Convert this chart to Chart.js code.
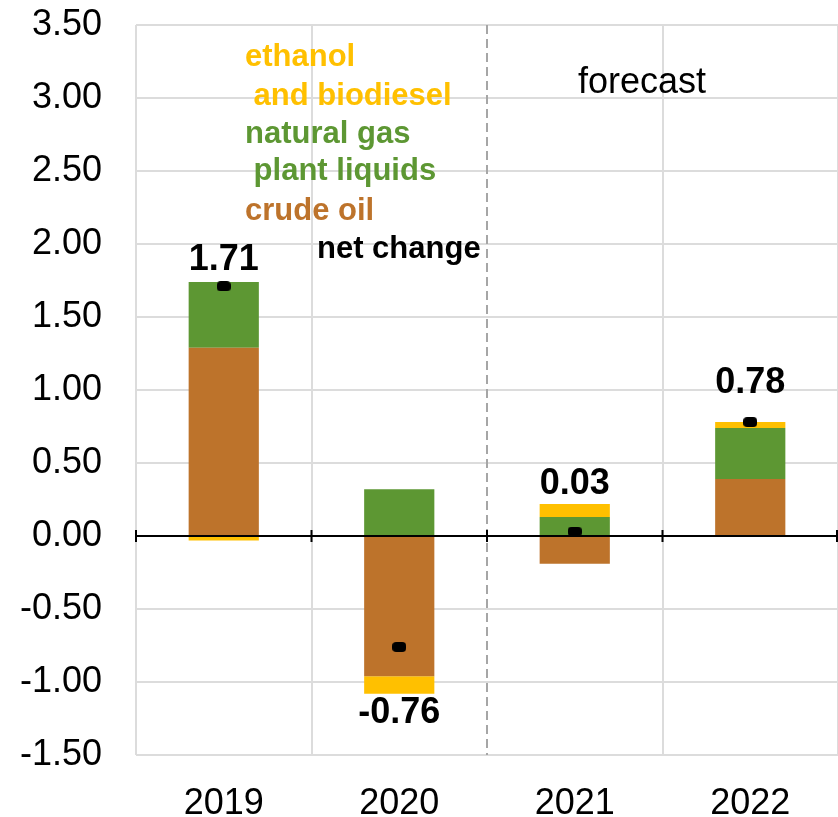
<!DOCTYPE html>
<html>
<head>
<meta charset="utf-8">
<script src="https://cdn.jsdelivr.net/npm/chart.js@4.4.0/dist/chart.umd.min.js"></script>
<style>
  html, body { margin: 0; padding: 0; background: #fff; }
  #wrap { width: 838px; height: 817px; }
</style>
</head>
<body>
<div id="wrap"><canvas id="chart" width="838" height="817"></canvas></div>
<script>
// data (million barrels per day, change vs previous year)
const years = ["2019", "2020", "2021", "2022"];
const crudeOil = [1.29, -0.96, -0.19, 0.39];
const ngpl = [0.45, 0.32, 0.13, 0.35];
const ethanol = [-0.03, -0.12, 0.09, 0.04];
const netChange = [1.71, -0.76, 0.03, 0.78];
const yTicks = [-1.5, -1.0, -0.5, 0, 0.5, 1.0, 1.5, 2.0, 2.5, 3.0, 3.5];

const ORANGE = "#BD732B";
const GREEN = "#5D9733";
const YELLOW = "#FFC000";
const FONT = "'Liberation Sans', Arial, sans-serif";

// legend written inside the plot, one line per entry
const legendLines = [
  { text: "ethanol", color: YELLOW, dy: 41 },
  { text: " and biodiesel", color: YELLOW, dy: 80 },
  { text: "natural gas", color: GREEN, dy: 118 },
  { text: " plant liquids", color: GREEN, dy: 155 },
  { text: "crude oil", color: ORANGE, dy: 195 }
];

// gap between bar end and net label baseline
const labelGap = [12, 29, 10, 29];

// small black rounded marker for the net change
function makeDot() {
  const c = document.createElement("canvas");
  c.width = 14; c.height = 10;
  const g = c.getContext("2d");
  const r = 4;
  g.fillStyle = "#000";
  g.beginPath();
  g.moveTo(r, 0);
  g.lineTo(14 - r, 0);
  g.arc(14 - r, r, r, -Math.PI / 2, 0);
  g.lineTo(14, 10 - r);
  g.arc(14 - r, 10 - r, r, 0, Math.PI / 2);
  g.lineTo(r, 10);
  g.arc(r, 10 - r, r, Math.PI / 2, Math.PI);
  g.lineTo(0, r);
  g.arc(r, r, r, Math.PI, Math.PI * 1.5);
  g.fill();
  return c;
}

const overlay = {
  id: "overlay",
  beforeDatasetsDraw(chart) {
    const { ctx, chartArea } = chart;
    const step = (chartArea.right - chartArea.left) / years.length;
    const x = chartArea.left + step * 2;
    ctx.save();
    ctx.strokeStyle = "#a6a6a6";
    ctx.lineWidth = 2;
    ctx.setLineDash([9, 5]);
    ctx.beginPath();
    ctx.moveTo(x, chartArea.top);
    ctx.lineTo(x, chartArea.bottom);
    ctx.stroke();
    ctx.restore();
  },
  beforeDatasetDraw(chart, args) {
    if (args.meta.type !== "line") return;
    const { ctx, chartArea, scales } = chart;
    const y0 = scales.y.getPixelForValue(0);
    const step = (chartArea.right - chartArea.left) / years.length;
    ctx.save();
    ctx.strokeStyle = "#000";
    ctx.lineWidth = 2;
    ctx.beginPath();
    ctx.moveTo(chartArea.left, y0);
    ctx.lineTo(chartArea.right, y0);
    for (let i = 0; i <= years.length; i++) {
      const bx = Math.min(chartArea.left + i * step, chartArea.right - 1);
      ctx.moveTo(bx, y0 - 6);
      ctx.lineTo(bx, y0 + 6);
    }
    ctx.stroke();
    ctx.restore();
  },
  afterDatasetsDraw(chart) {
    const { ctx, chartArea, scales } = chart;
    ctx.save();
    ctx.textAlign = "left";
    ctx.textBaseline = "alphabetic";
    ctx.font = "bold 31px " + FONT;
    legendLines.forEach(l => {
      ctx.fillStyle = l.color;
      ctx.fillText(l.text, chartArea.left + 109, chartArea.top + l.dy);
    });
    ctx.fillStyle = "#000";
    ctx.fillText("net change", chartArea.left + 181, chartArea.top + 233);
    ctx.font = "36px " + FONT;
    ctx.fillText("forecast", chartArea.left + 442, chartArea.top + 68);

    // net change values above / below the stacks
    ctx.font = "bold 36px " + FONT;
    ctx.textAlign = "center";
    netChange.forEach((v, i) => {
      const x = scales.x.getPixelForValue(i);
      const parts = [crudeOil[i], ngpl[i], ethanol[i]];
      const label = v.toFixed(2);
      if (v >= 0) {
        const top = parts.filter(p => p > 0).reduce((a, b) => a + b, 0);
        ctx.fillText(label, x, scales.y.getPixelForValue(top) - labelGap[i]);
      } else {
        const bottom = parts.filter(p => p < 0).reduce((a, b) => a + b, 0);
        ctx.fillText(label, x, scales.y.getPixelForValue(bottom) + labelGap[i]);
      }
    });
    ctx.restore();
  }
};

const ctx = document.getElementById("chart").getContext("2d");
new Chart(ctx, {
  data: {
    labels: years,
    datasets: [
      {
        type: "line",
        label: "net change",
        data: netChange,
        showLine: false,
        pointStyle: makeDot(),
        stack: "net",
        order: 0
      },
      {
        type: "bar",
        label: "crude oil",
        data: crudeOil,
        backgroundColor: ORANGE,
        order: 1
      },
      {
        type: "bar",
        label: "natural gas plant liquids",
        data: ngpl,
        backgroundColor: GREEN,
        order: 1
      },
      {
        type: "bar",
        label: "ethanol and biodiesel",
        data: ethanol,
        backgroundColor: YELLOW,
        order: 1
      }
    ]
  },
  options: {
    responsive: false,
    animation: false,
    events: [],
    layout: { padding: 0, autoPadding: false },
    datasets: {
      bar: { barPercentage: 0.4, categoryPercentage: 1, borderWidth: 0 }
    },
    plugins: {
      legend: { display: false },
      tooltip: { enabled: false }
    },
    scales: {
      x: {
        stacked: true,
        grid: {
          offset: true,
          drawTicks: false,
          lineWidth: 2,
          color: c => (c.index === 2 ? "rgba(0,0,0,0)" : "#dcdcdc")
        },
        border: { display: false },
        ticks: {
          color: "#000",
          padding: 27,
          font: { family: FONT, size: 36 }
        },
        afterFit: axis => {
          axis.height = 62;
          axis.paddingLeft = 0;
          axis.paddingRight = 0;
        }
      },
      y: {
        stacked: true,
        min: -1.5,
        max: 3.5,
        afterBuildTicks: axis => { axis.ticks = yTicks.map(v => ({ value: v })); },
        grid: { drawTicks: false, lineWidth: 2, color: "#dcdcdc" },
        border: { display: false },
        ticks: {
          color: "#000",
          padding: 34,
          font: { family: FONT, size: 36 },
          callback: v => v.toFixed(2)
        },
        afterFit: axis => {
          axis.width = 136;
          axis.paddingTop = 25;
          axis.paddingBottom = 0;
        }
      }
    }
  },
  plugins: [overlay]
});
</script>
</body>
</html>
